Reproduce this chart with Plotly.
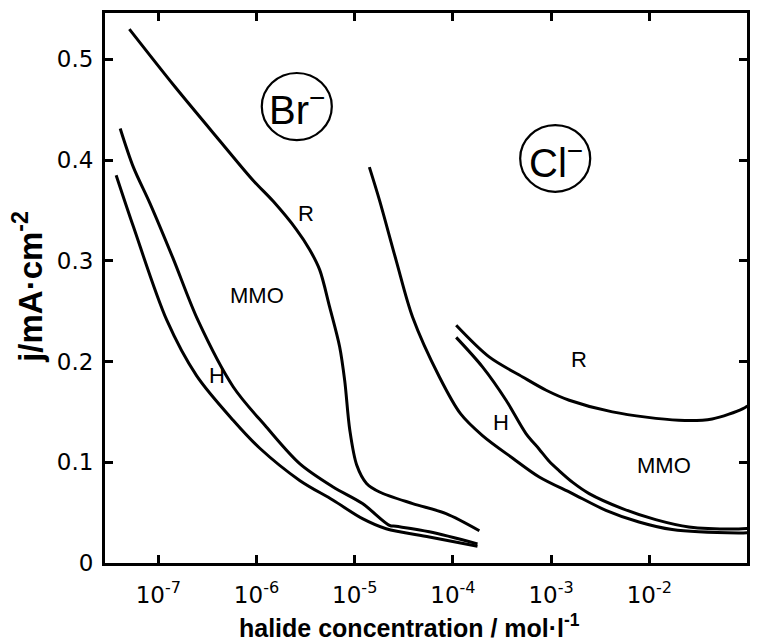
import math
import plotly.graph_objects as go

# ---- data ----
br_R_x = [5.07e-8, 1.47e-7, 4.24e-7, 9.2e-7, 1.48e-6, 2.55e-6, 3.48e-6, 4.40e-6, 5.56e-6, 7.03e-6, 7.91e-6, 8.91e-6, 1.05e-5, 1.32e-5, 1.79e-5, 3.89e-5, 8.51e-5, 1.86e-4]
br_R_y = [0.530, 0.473, 0.419, 0.380, 0.359, 0.331, 0.311, 0.291, 0.254, 0.2145, 0.181, 0.132, 0.097, 0.079, 0.0705, 0.059, 0.049, 0.032]

br_MMO_x = [4.09e-8, 5.57e-8, 8.22e-8, 1.41e-7, 2.53e-7, 5.78e-7, 1.26e-6, 2.75e-6, 6.03e-6, 1.20e-5, 2.26e-5, 2.63e-5, 5.75e-5, 1.78e-4]
br_MMO_y = [0.4314, 0.393, 0.357, 0.3026, 0.241, 0.175, 0.135, 0.0987, 0.0755, 0.059, 0.0374, 0.0364, 0.031, 0.019]

br_H_x = [3.72e-8, 5.57e-8, 1.22e-7, 2.45e-7, 5.78e-7, 1.08e-6, 2.75e-6, 6.03e-6, 1.20e-5, 2.09e-5, 5.75e-5, 1.78e-4]
br_H_y = [0.385, 0.334, 0.241, 0.186, 0.1417, 0.1139, 0.082, 0.0623, 0.044, 0.034, 0.0258, 0.0166]

cl_R_x = [1.08e-4, 2.34e-4, 5.13e-4, 8.91e-4, 1.53e-3, 4.21e-3, 2.0e-2, 4.37e-2, 8.9e-2, 1.0e-1]
cl_R_y = [0.236, 0.2046, 0.1847, 0.1715, 0.1616, 0.150, 0.1417, 0.143, 0.153, 0.156]

cl_MMO_x = [1.08e-4, 2.0e-4, 3.48e-4, 5.55e-4, 7.57e-4, 9.55e-4, 1.21e-3, 1.66e-3, 2.44e-3, 5.32e-3, 1.16e-2, 2.53e-2, 8.13e-2, 1.0e-1]
cl_MMO_y = [0.224, 0.1947, 0.1616, 0.1285, 0.113, 0.101, 0.0915, 0.080, 0.0689, 0.054, 0.0431, 0.0358, 0.0337, 0.0342]

cl_H_x = [1.41e-5, 1.79e-5, 2.65e-5, 3.89e-5, 7.29e-5, 1.20e-4, 2.0e-4, 4.07e-4, 7.57e-4, 1.65e-3, 3.61e-3, 7.85e-3, 1.71e-2, 8.13e-2, 1.0e-1]
cl_H_y = [0.393, 0.360, 0.300, 0.244, 0.1847, 0.148, 0.1265, 0.104, 0.0854, 0.0689, 0.0523, 0.0407, 0.0332, 0.0298, 0.030]

x_tickvals = [1e-7, 1e-6, 1e-5, 1e-4, 1e-3, 1e-2, 1e-1]
x_ticktext = ["10<sup>-7</sup>", "10<sup>-6</sup>", "10<sup>-5</sup>", "10<sup>-4</sup>",
              "10<sup>-3</sup>", "10<sup>-2</sup>", "10<sup>-1</sup>"]
y_tickvals = [0, 0.1, 0.2, 0.3, 0.4, 0.5]
y_ticktext = ["0", "0.1", "0.2", "0.3", "0.4", "0.5"]

# curve labels: (text, concentration, j)
curve_labels = [
    ("R", 3.22e-6, 0.347),
    ("MMO", 1.0e-6, 0.266),
    ("H", 3.92e-7, 0.186),
    ("R", 1.93e-3, 0.202),
    ("H", 3.09e-4, 0.139),
    ("MMO", 1.41e-2, 0.097),
]

fig = go.Figure()
line = dict(color="black", width=3, shape="spline", smoothing=0.9)
for xs, ys in [(br_R_x, br_R_y), (br_MMO_x, br_MMO_y), (br_H_x, br_H_y),
               (cl_R_x, cl_R_y), (cl_MMO_x, cl_MMO_y), (cl_H_x, cl_H_y)]:
    fig.add_trace(go.Scatter(x=xs, y=ys, mode="lines", line=line,
                             showlegend=False, hoverinfo="skip"))

for txt, xv, yv in curve_labels:
    fig.add_annotation(x=math.log10(xv), y=yv, xref="x", yref="y", text=txt,
                       showarrow=False, xanchor="center", yanchor="middle",
                       font=dict(family="Liberation Sans, Arial", size=22, color="black"))

# circled ion labels
fig.add_shape(type="circle", xref="paper", yref="paper",
              x0=0.2442, x1=0.3533, y0=0.769, y1=0.8909,
              line=dict(color="black", width=2.2))
fig.add_shape(type="circle", xref="paper", yref="paper",
              x0=0.6467, x1=0.7558, y0=0.6749, y1=0.7962,
              line=dict(color="black", width=2.2))
fig.add_annotation(x=0.2995, y=0.829, xref="paper", yref="paper",
                   xanchor="center", yanchor="middle",
                   text="Br<sup>−</sup>", showarrow=False,
                   font=dict(family="Liberation Sans Narrow, Liberation Sans, Arial", size=40, color="black"))
fig.add_annotation(x=0.7028, y=0.7324, xref="paper", yref="paper",
                   xanchor="center", yanchor="middle",
                   text="Cl<sup>−</sup>", showarrow=False,
                   font=dict(family="Liberation Sans Narrow, Liberation Sans, Arial", size=40, color="black"))

# axis titles
fig.add_annotation(x=0.475, y=-0.1145, xref="paper", yref="paper",
                   xanchor="center", yanchor="middle", showarrow=False,
                   text="<b>halide concentration / mol·l<sup>-1</sup></b>",
                   font=dict(family="Liberation Sans, Arial", size=25, color="black"))
fig.add_annotation(x=-0.12, y=0.502, xref="paper", yref="paper",
                   xanchor="center", yanchor="middle", showarrow=False, textangle=-90,
                   text="<b>j/mA·cm<sup>-2</sup></b>",
                   font=dict(family="Liberation Sans, Arial", size=33, color="black"))

tickfont = dict(family="DejaVu Sans", size=23, color="black")
fig.update_xaxes(type="log", range=[-7.543, -1.005],
                 tickvals=x_tickvals, ticktext=x_ticktext,
                 ticks="inside", ticklen=8, tickwidth=2.5, tickcolor="black",
                 showline=True, linewidth=3, linecolor="black", mirror="ticks",
                 showgrid=False, zeroline=False, tickfont=tickfont,
                 ticklabelstandoff=9)
fig.update_yaxes(range=[0, 0.546],
                 tickvals=y_tickvals, ticktext=y_ticktext,
                 ticks="inside", ticklen=8, tickwidth=2.5, tickcolor="black",
                 showline=True, linewidth=3, linecolor="black", mirror="ticks",
                 showgrid=False, zeroline=False, tickfont=tickfont,
                 ticklabelstandoff=4)
fig.update_layout(width=773, height=632,
                  margin=dict(l=97, r=34, t=5, b=77, autoexpand=False),
                  plot_bgcolor="white", paper_bgcolor="white")
fig.write_html("out.html")
